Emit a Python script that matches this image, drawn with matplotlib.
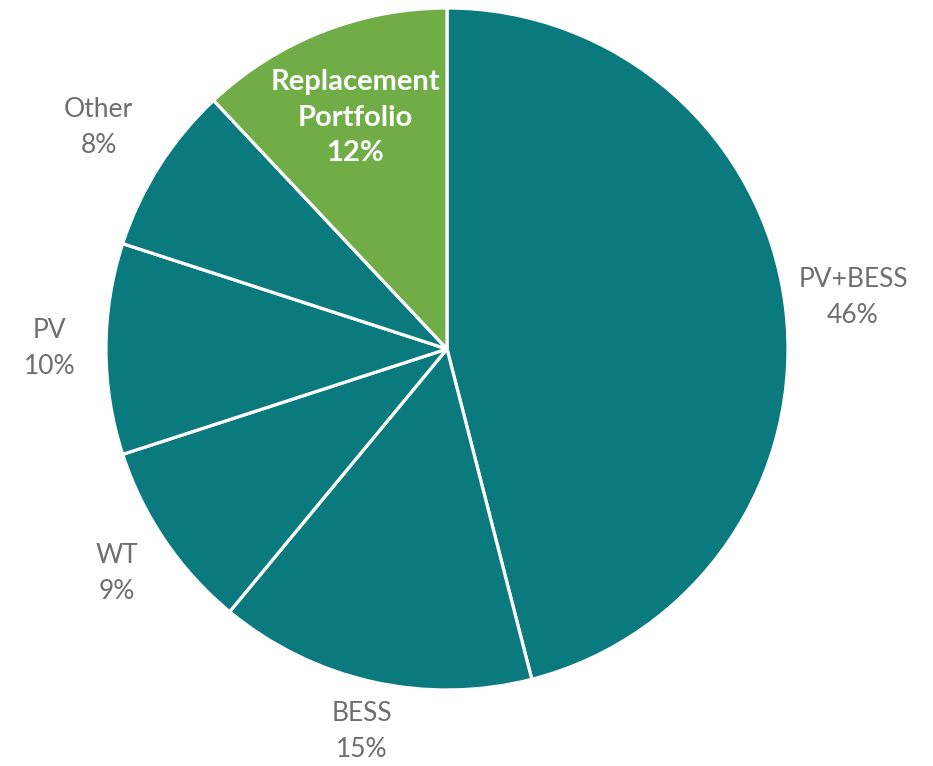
import matplotlib
matplotlib.use("Agg")
import matplotlib.pyplot as plt
import numpy as np

categories = ["PV+BESS", "BESS", "WT", "PV", "Other", "Replacement\nPortfolio"]
values = [46, 15, 9, 10, 8, 12]
colors = ["#0B7A7E", "#0B7A7E", "#0B7A7E", "#0B7A7E", "#0B7A7E", "#70AD47"]
label_dist = [1.20, 1.15, 1.17, 1.165, 1.21, 0.73]

plt.rcParams['font.family'] = ['Lato', 'DejaVu Sans']

fig = plt.figure(figsize=(9.33, 7.66), dpi=100)
ax = fig.add_axes([106/933, 76/766, 682/933, 682/766])
wedges, _ = ax.pie(values, colors=colors, startangle=90, counterclock=False,
                   radius=1, wedgeprops=dict(edgecolor="white", linewidth=2.3))
ax.set_xlim(-1, 1)
ax.set_ylim(-1, 1)
ax.set_aspect("equal")
ax.axis("off")

for w, cat, v, d in zip(wedges, categories, values, label_dist):
    ang = np.deg2rad((w.theta1 + w.theta2) / 2)
    x, y = d * np.cos(ang), d * np.sin(ang)
    last = cat == categories[-1]
    ax.text(x, y, f"{cat}\n{v}%", ha="center", va="center",
            fontsize=21 if last else 19, color="white" if last else "#6E6E6E",
            fontweight="bold" if last else "normal",
            linespacing=1.45 if last else 1.55)

fig.savefig("out.png", dpi=100)
